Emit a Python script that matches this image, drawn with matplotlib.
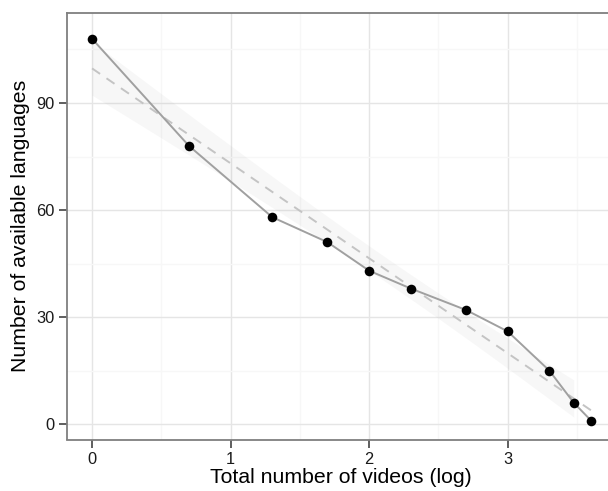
import numpy as np
import matplotlib
matplotlib.use("Agg")
import matplotlib.pyplot as plt
from matplotlib.ticker import MultipleLocator

# Data
videos = [1, 5, 20, 50, 100, 200, 500, 1000, 2000, 3000, 4000]
languages = [108, 78, 58, 51, 43, 38, 32, 26, 15, 6, 1]
x_ticks = [0, 1, 2, 3]
y_ticks = [0, 30, 60, 90]
x_title = "Total number of videos (log)"
y_title = "Number of available languages"

x = np.log10(np.array(videos, dtype=float))
y = np.array(languages, dtype=float)

plt.rcParams['font.family'] = ['Liberation Sans', 'DejaVu Sans']

W, H = 608, 491
fig = plt.figure(figsize=(W / 100, H / 100), dpi=100)
left, right, top, bottom = 66.7, 616.0, 12.7, 439.5
ax = fig.add_axes([left / W, 1 - bottom / H, (right - left) / W, (bottom - top) / H])

ax.set_xlim(-0.183, 3.782)
ax.set_ylim(-4.3, 115.3)

# grid
ax.set_xticks(x_ticks)
ax.set_yticks(y_ticks)
ax.xaxis.set_minor_locator(MultipleLocator(0.5))
ax.yaxis.set_minor_locator(MultipleLocator(15))
ax.grid(True, which='major', color='#e5e5e5', linewidth=1.0, zorder=0)
ax.grid(True, which='minor', color='#f7f7f7', linewidth=1.0, zorder=0)
ax.set_axisbelow(True)
ax.tick_params(which='minor', length=0)

# linear fit with 95% confidence band
n = len(x)
b1, b0 = np.polyfit(x, y, 1)
resid = y - (b0 + b1 * x)
s = np.sqrt(np.sum(resid ** 2) / (n - 2))
xbar = x.mean()
sxx = np.sum((x - xbar) ** 2)
t = 2.262
xg = np.linspace(x.min(), x[-2], 100)
se = s * np.sqrt(1 / n + (xg - xbar) ** 2 / sxx)
yfit = b0 + b1 * xg
ax.fill_between(xg, yfit - t * se, yfit + t * se, color='#999999', alpha=0.075,
                linewidth=0, zorder=1)
xl = np.array([x.min(), x.max()])
ax.plot(xl, b0 + b1 * xl, color='#c4c4c4', linewidth=1.4, dashes=(5, 4), zorder=2)

# data line and points
ax.plot(x, y, color='#a0a0a0', linewidth=1.4, zorder=3)
ax.scatter(x, y, s=48, color='black', zorder=4, linewidths=0)

for sp in ax.spines.values():
    sp.set_color('#7f7f7f')
    sp.set_linewidth(1.3)

ax.tick_params(which='major', length=6, width=1.1, color='#333333',
               labelsize=11.8, labelcolor='#1a1a1a', pad=3)
ax.set_xlabel(x_title, fontsize=15.3, labelpad=1, color='black')
ax.set_ylabel(y_title, fontsize=15.3, labelpad=4, color='black')

fig.savefig("out.png", dpi=100)
